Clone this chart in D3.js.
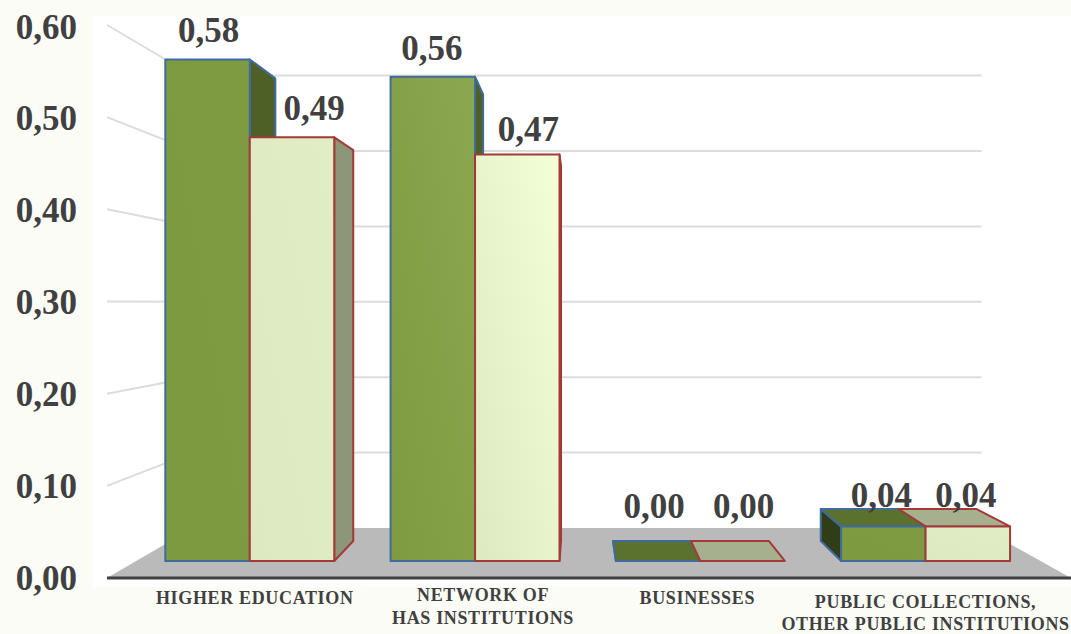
<!DOCTYPE html>
<html><head><meta charset="utf-8">
<script src="https://cdn.jsdelivr.net/npm/d3@7"></script>
<style>html,body{margin:0;padding:0;background:#fbfcf6}svg{display:block}text{font-family:"Liberation Serif",serif;font-weight:bold;fill:#404040}</style>
</head><body><script>
const categories=["HIGHER EDUCATION","NETWORK OF\nHAS INSTITUTIONS","BUSINESSES","PUBLIC COLLECTIONS,\nOTHER PUBLIC INSTITUTIONS"];
const seriesA=[0.58,0.56,0,0.04];
const seriesB=[0.49,0.47,0,0.04];
const tickValues=[0,0.1,0.2,0.3,0.4,0.5,0.6];
const tickLabels=["0,00","0,10","0,20","0,30","0,40","0,50","0,60"];
const valueLabels=[["0,58","0,56","0,00","0,04"],["0,49","0,47","0,00","0,04"]];

const W=1071,H=634,VX=579,VY=303;
const svg=d3.select("body").append("svg").attr("width",W).attr("height",H);
const defs=svg.append("defs");
function grad(id,x1,y1,x2,y2,c1,c2){const g=defs.append("linearGradient").attr("id",id).attr("x1",x1).attr("y1",y1).attr("x2",x2).attr("y2",y2);g.append("stop").attr("offset",0).attr("stop-color",c1);g.append("stop").attr("offset",1).attr("stop-color",c2);}
grad("ga0",0,1,1,0,"#7d9a3e","#7f9b40");
grad("ga1",0,1,1,0,"#7f9b40","#8ba750");
grad("gb0",0,1,1,0,"#dde9c0","#e1edc5");
grad("gb1",0,1,1,0,"#dde9c0","#f3ffd6");

const x=d3.scaleBand().domain(d3.range(categories.length)).range([108,1068.5]).paddingInner(0.25).paddingOuter(0.125);
const y=d3.scaleLinear().domain([0,0.6]).range([578,25]);
const depth=d3.scaleLinear().domain([0,1]).range([1,0.818]);
const BAR_FRONT=0.34,BAR_BACK=0.74;
const P=(wx,wy,d)=>{const s=depth(d);return [VX+s*(wx-VX),VY+s*(wy-VY)];};
const path=pts=>d3.line()(pts)+"Z";

svg.append("rect").attr("x",93).attr("y",16).attr("width",W-93).attr("height",571).attr("fill","#fff");

// floor
svg.append("path").attr("d",path([P(107,578,0),P(1071,578,0),P(1071,578,1),P(107,578,1)])).attr("fill","#bababa");
// walls
const grid=svg.append("g").attr("fill","none").attr("stroke","#dcdcdc").attr("stroke-width",2);
tickValues.filter(v=>v>0).forEach(v=>{
  grid.append("path").attr("d",d3.line()([P(107,y(v),0),P(107,y(v),1),P(1071,y(v),1)]));
});

// bars
const BLUE="#3f6b9f",RED="#a33a38";
const xs=[
 {vals:seriesA,off:0,stroke:BLUE,fill:"ga",side:"#4f6026",sideR:"#303d17",top:"#5b712e"},
 {vals:seriesB,off:1,stroke:RED,fill:"gb",side:"#8e9679",sideR:"#8e9679",top:"#a6b08f"}];
const bw=x.bandwidth()/2;
function bar(i,sr){
  const x0=x(i)+sr.off*bw,x1=x0+bw,yb=y(0),yt=y(sr.vals[i]);
  const g=svg.append("g").attr("stroke",sr.stroke).attr("stroke-width",2).attr("stroke-linejoin","round");
  if(x1<VX+15){
    g.append("path").attr("d",path([P(x1,yb,BAR_FRONT),P(x1,yt,BAR_FRONT),P(x1,yt,BAR_BACK),P(x1,yb,BAR_BACK)])).attr("fill",sr.side);
  }
  if(x0>VX&&sr.off===0){
    g.append("path").attr("d",path([P(x0,yb,BAR_FRONT),P(x0,yt,BAR_FRONT),P(x0,yt,BAR_BACK),P(x0,yb,BAR_BACK)])).attr("fill",sr.sideR);
  }
  if(yt>VY){
    g.append("path").attr("d",path([P(x0,yt,BAR_FRONT),P(x1,yt,BAR_FRONT),P(x1,yt,BAR_BACK),P(x0,yt,BAR_BACK)])).attr("fill",sr.top);
  }
  if(sr.vals[i]>0){
    g.append("path").attr("d",path([P(x0,yb,BAR_FRONT),P(x1,yb,BAR_FRONT),P(x1,yt,BAR_FRONT),P(x0,yt,BAR_FRONT)])).attr("fill",`url(#${sr.fill}${i==1?1:0})`);
  }
}
categories.forEach((c,i)=>{ bar(i,xs[0]);bar(i,xs[1]); });
// baseline
svg.append("line").attr("x1",107).attr("x2",1071).attr("y1",y(0)).attr("y2",y(0)).attr("stroke","#404040").attr("stroke-width",3);

// y axis
const yAxisScale=d3.scaleLinear().domain([0,0.6]).range([578,27]);
const ax=svg.append("g").attr("transform","translate(77,0)").call(d3.axisLeft(yAxisScale).tickValues(tickValues).tickSize(0).tickPadding(0).tickFormat((d,i)=>tickLabels[i]));
ax.select(".domain").remove();
ax.selectAll("text").attr("font-size",35).attr("dy",null).each(function(){d3.select(this).attr("y",11);});

// value labels
const labelNudge=[[[1,-17],[-1,-17],[-4,-43],[-2,-19]],[[22,-17],[11,-14],[1,-43],[-2,-19]]];
xs.forEach((sr,k)=>sr.vals.forEach((v,i)=>{
  const cxw=x(i)+sr.off*bw+bw/2;
  const p=P(cxw,y(v),BAR_FRONT);
  svg.append("text").attr("x",p[0]+labelNudge[k][i][0]).attr("y",p[1]+labelNudge[k][i][1]).attr("text-anchor","middle").attr("font-size",35).text(valueLabels[k][i]);
}));

// category labels
const catNudge=[[5,604],[8,601,624],[-3,604],[0,608,630]];
categories.forEach((c,i)=>{
  const cx=P(x(i)+x.bandwidth()/2,y(0),BAR_FRONT)[0]+catNudge[i][0];
  c.split("\n").forEach((ln,j)=>{
    svg.append("text").attr("x",cx).attr("y",catNudge[i][1+j]).attr("text-anchor","middle").attr("font-size",18).attr("letter-spacing",0.65).text(ln);
  });
});
</script></body></html>
